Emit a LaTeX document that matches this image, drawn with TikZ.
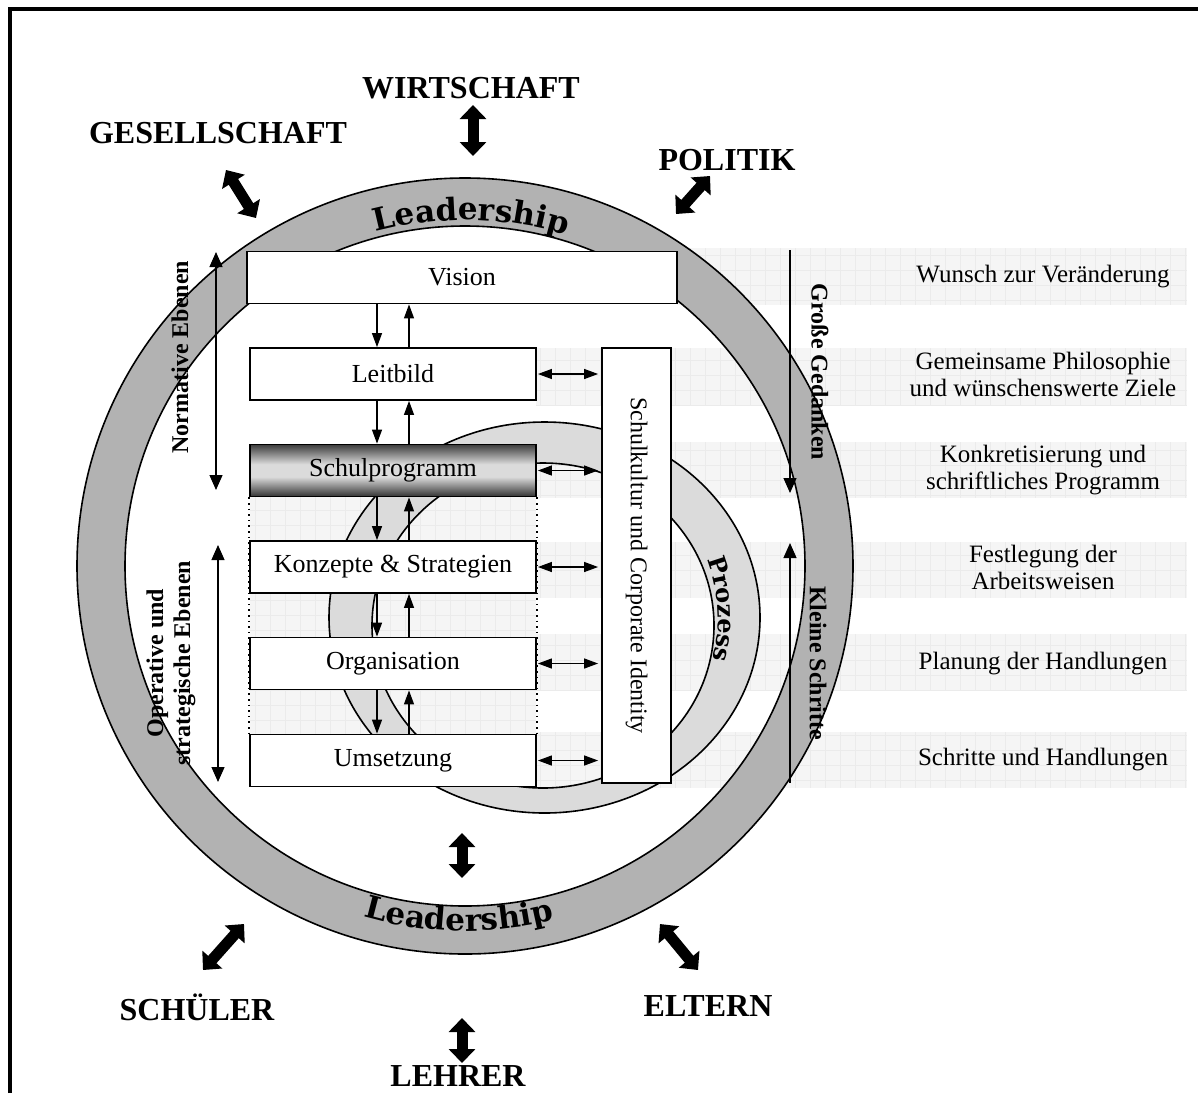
\documentclass[tikz,border=0pt]{standalone}
\usepackage{fontspec}
\setmainfont{Liberation Serif}
\newfontfamily\leadfont{DejaVu Serif}
\usepackage{tikz}
\usetikzlibrary{arrows.meta}
\usetikzlibrary{positioning,decorations.text}
\usetikzlibrary{calc}
\usepackage{xcolor}
\colorlet{ringgray}{black!30}
\colorlet{prozgray}{black!14}
\colorlet{stripegray}{black!4}
\colorlet{gridgray}{black!8}
\pgfdeclareverticalshading{progshade}{100bp}{
    color(0bp)=(black!80); color(25bp)=(black!80); color(44bp)=(black!14);
    color(56bp)=(black!14); color(75bp)=(black!76); color(100bp)=(black!76)}
\tikzset{
    levelbox/.style={
        draw,
        rectangle,
        fill=white,
        line width=0.9pt,
        minimum width=143pt,
        minimum height=26pt,
        inner sep=0pt,
        font=\fontsize{13}{15}\selectfont
    },
    outlabel/.style={
        font=\bfseries\fontsize{16}{18}\selectfont
    },
    sidelabel/.style={
        font=\bfseries\fontsize{12}{13.5}\selectfont,
        align=center
    },
    rowlabel/.style={
        font=\fontsize{12.5}{13.5}\selectfont,
        align=center
    },
    levelarrow/.style={
        line width=0.6pt,
        >={Triangle[length=7pt, width=5pt]}
    },
    spanarrow/.style={
        line width=0.6pt,
        >={Triangle[length=7.5pt, width=6.5pt]}
    },
    blockarrow/.style={
        line width=5.5pt,
        >={Triangle[length=7pt, width=13pt]}
    }
}

\begin{document}
\begin{tikzpicture}[x=0.5pt, y=0.5pt]
    \useasboundingbox (0,0) rectangle (1198,-1093);

    % Frame
    \draw[line width=1.8pt] (10,-1093) -- (10,-9) -- (1198,-9);

    % Stripes
    \foreach \ya/\yb in {348/405, 442/498, 542/598, 634/690, 732/788}{
        \fill[stripegray] (536,-\ya) rectangle (1187,-\yb);
        \draw[gridgray, line width=0.3pt, step=15] (536,-\ya) grid (1187,-\yb);
    }
    \fill[stripegray] (677,-248) rectangle (1187,-305);
    \draw[gridgray, line width=0.3pt, step=15] (677,-248) grid (1187,-305);
    \foreach \ya/\yb in {497/541, 593/638, 689/734}{
        \fill[stripegray] (250,-\ya) rectangle (536,-\yb);
        \draw[gridgray, line width=0.3pt, step=15] (250,-\ya) grid (536,-\yb);
    }

    % Leadership ring
    \fill[ringgray, even odd rule] (465,-566) circle[radius=388] (465,-566) circle[radius=340];
    \draw[line width=0.8pt] (465,-566) circle[radius=388] (465,-566) circle[radius=340];
    \path[decorate, decoration={text along path, text align=center,
        text={|\leadfont\bfseries\fontsize{15.5}{17}\selectfont|Leadership}}]
        (465,-566) ++(130:346) arc[start angle=130, end angle=48, radius=346];
    \path[decorate, decoration={text along path, text align=center,
        text={|\leadfont\bfseries\fontsize{15.5}{17}\selectfont|Leadership}}]
        (465,-566) ++(235:365) arc[start angle=235, end angle=303, radius=365];

    % Prozess ring
    \fill[prozgray, even odd rule] (544.5,-617.5) ellipse[x radius=215.5, y radius=195.5]
        (543,-625.5) ellipse[x radius=171, y radius=162.5];
    \draw[line width=0.8pt] (544.5,-617.5) ellipse[x radius=215.5, y radius=195.5]
        (543,-625.5) ellipse[x radius=171, y radius=162.5];
    \path[decorate, decoration={text along path, text align=center,
        text={|\leadfont\bfseries\fontsize{12}{14}\selectfont|Prozess}}]
        (544,-618) ++(33:174 and 168) arc[start angle=33, end angle=-27, x radius=174, y radius=168];

    % Levels
    \node[levelbox, minimum width=215pt] (vision) at (462,-277.5) {Vision};
    \node[levelbox] (leit) at (393,-374) {Leitbild};
    \node[levelbox, shading=progshade] (prog) at (393,-470.5) {Schulprogramm};
    \node[levelbox] (konz) at (393,-567) {Konzepte \& Strategien};
    \node[levelbox] (orga) at (393,-663.5) {Organisation};
    \node[levelbox] (umse) at (393,-760.5) {Umsetzung};
    \node[levelbox, rotate=-90, minimum width=217.5pt, minimum height=34.5pt,
        font=\fontsize{12}{14}\selectfont] (kultur) at (636.5,-565.5) {Schulkultur und Corporate Identity};

    \draw[dotted, line width=0.8pt] (prog.south west) -- (umse.north west);
    \draw[dotted, line width=0.8pt] (prog.south east) -- (umse.north east);

    % Arrows between levels
    \foreach \a/\b in {vision/leit, leit/prog, prog/konz, konz/orga, orga/umse}{
        \draw[levelarrow, ->] ($(\b.north |- \a.south)+(-8pt,0)$) -- ([xshift=-8pt]\b.north);
        \draw[levelarrow, ->] ([xshift=8pt]\b.north) -- ($(\b.north |- \a.south)+(8pt,0)$);
    }
    \foreach \n in {leit, prog, konz, orga, umse}{
        \draw[levelarrow, <->, shorten >=1.5pt, shorten <=0.5pt] (\n.east) -- (\n.east -| kultur.south);
    }

    % Side labels
    \coordinate (nt) at (216,-252);
    \coordinate (nb) at (216,-490);
    \coordinate (ot) at (218,-545);
    \coordinate (ob) at (218,-782);
    \coordinate (gt) at (790,-250);
    \coordinate (gb) at (790,-493);
    \coordinate (kt) at (790,-543);
    \coordinate (kb) at (790,-783);
    \draw[spanarrow, <->] (nt) -- (nb);
    \draw[spanarrow, <->] (ot) -- (ob);
    \draw[spanarrow, ->] (gt) -- (gb);
    \draw[spanarrow, ->] (kb) -- (kt);
    \node[sidelabel, rotate=90] (norm) at (180,-357) {Normative Ebenen};
    \node[sidelabel, rotate=90] (oper) at (171,-663) {Operative und\\strategische Ebenen};
    \node[sidelabel, rotate=-90] (gross) at (820,-372) {Große Gedanken};
    \node[sidelabel, rotate=-90] (klein) at (818,-663) {Kleine Schritte};

    % Row labels
    \node[rowlabel] (wunsch) at (1043,-277) {Wunsch zur Veränderung};
    \node[rowlabel] (philo) at (1043,-374) {Gemeinsame Philosophie\\und wünschenswerte Ziele};
    \node[rowlabel] (konkret) at (1043,-470) {Konkretisierung und\\schriftliches Programm};
    \node[rowlabel] (fest) at (1043,-567) {Festlegung der\\Arbeitsweisen};
    \node[rowlabel] (plan) at (1043,-664) {Planung der Handlungen};
    \node[rowlabel] (schritte) at (1043,-760) {Schritte und Handlungen};

    % Outer labels
    \node[outlabel] (wirt) at (471,-88) {WIRTSCHAFT};
    \node[outlabel] (gese) at (218,-133) {GESELLSCHAFT};
    \node[outlabel] (poli) at (727,-160) {POLITIK};
    \node[outlabel] (schu) at (197,-1007) {SCHÜLER};
    \node[outlabel] (elte) at (708,-1006) {ELTERN};
    \node[outlabel] (lehr) at (458,-1076) {LEHRER};

    % Block arrows
    \coordinate (wa) at (473,-105);  \coordinate (wb) at (473,-156);
    \coordinate (ga) at (226,-170);  \coordinate (gb2) at (256,-218);
    \coordinate (pa) at (710,-176);  \coordinate (pb) at (676,-214);
    \coordinate (ia) at (462,-833);  \coordinate (ib) at (462,-878);
    \coordinate (sa) at (244,-924);  \coordinate (sb) at (203,-970);
    \coordinate (ea) at (660,-924);  \coordinate (eb) at (698,-970);
    \coordinate (la) at (462,-1018); \coordinate (lb) at (462,-1063);
    \draw[blockarrow, <->] (wa) -- (wb);
    \draw[blockarrow, <->] (ga) -- (gb2);
    \draw[blockarrow, <->] (pa) -- (pb);
    \draw[blockarrow, <->] (ia) -- (ib);
    \draw[blockarrow, <->] (sa) -- (sb);
    \draw[blockarrow, <->] (ea) -- (eb);
    \draw[blockarrow, <->] (la) -- (lb);
\end{tikzpicture}
\end{document}
